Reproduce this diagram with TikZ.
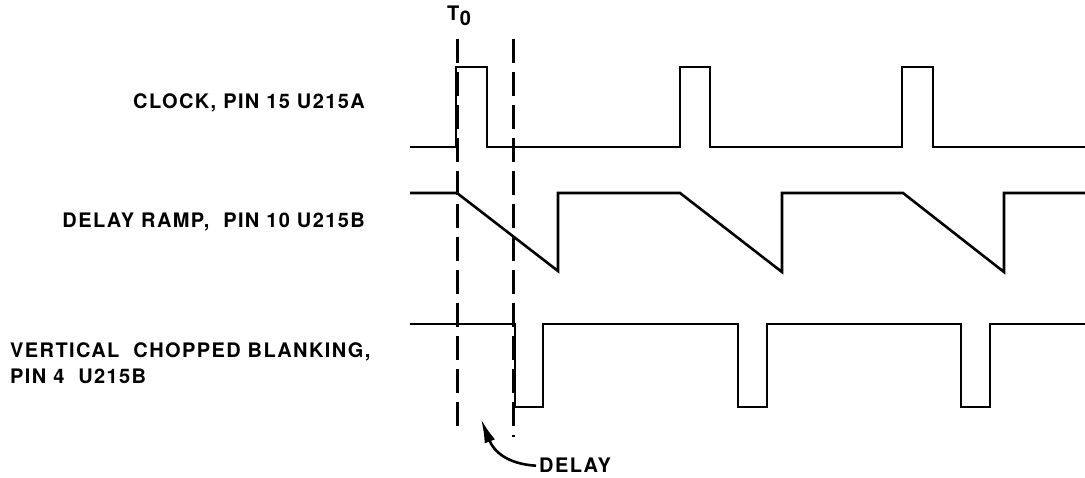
\documentclass[tikz,border=0pt]{standalone}
\usepackage{fontspec}
\setmainfont{TeX Gyre Heros}
\newfontfamily\lblfont[LetterSpace=7]{TeX Gyre Heros}
\usetikzlibrary{arrows.meta}
\begin{document}
\begin{tikzpicture}[x=1pt,y=-1pt,
  sig/.style={line width=2.6pt, line join=miter},
  guide/.style={line width=3pt, dash pattern=on 24pt off 9pt},
  lbl/.style={font=\lblfont\bfseries\fontsize{20}{22}\selectfont, inner sep=0pt},
  pointer/.style={line width=2.6pt, -{Latex[length=24pt,width=11pt]}}]
\useasboundingbox (0,0) rectangle (1085,477);
% clock
\draw[sig] (410,147) -- (456,147) -- (456,67) -- (487,67) -- (487,147)
  -- (680,147) -- (680,67) -- (710,67) -- (710,147)
  -- (902,147) -- (902,67) -- (933,67) -- (933,147) -- (1085,147);
% delay ramp
\draw[sig] (410,193) -- (457,193) -- (558,271) -- (558,193)
  -- (680,193) -- (782,272) -- (782,193)
  -- (903,193) -- (1004,272) -- (1004,193) -- (1085,193);
% blanking
\draw[sig] (410,324) -- (515,324) -- (515,407) -- (543,407) -- (543,324)
  -- (738,324) -- (738,407) -- (767,407) -- (767,324)
  -- (961,324) -- (961,407) -- (990,407) -- (990,324) -- (1085,324);
% guides
\draw[guide] (457,39) -- (457,430);
\draw[guide] (513,39) -- (513,437);
% labels
\node[lbl, anchor=base east] (clk) at (365,108) {CLOCK, PIN 15 U215A};
\node[lbl, anchor=base east] (ramp) at (365,227) {DELAY RAMP, \ PIN 10 U215B};
\node[lbl, anchor=base west] (blank1) at (10,357) {VERTICAL \ CHOPPED BLANKING,};
\node[lbl, anchor=base west] (blank2) at (10,383) {PIN 4 \ U215B};
\node[lbl, anchor=base west] (t0) at (447,20) {T\kern0.5pt\raisebox{-5pt}{0}};
\node[lbl, anchor=base west] (dly) at (539,472) {DELAY};
\coordinate (tip) at (481,419);
\draw[pointer] ([xshift=-3pt,yshift=-1pt]dly.west) .. controls (508,464) and (494,452) .. (tip);
\end{tikzpicture}
\end{document}
